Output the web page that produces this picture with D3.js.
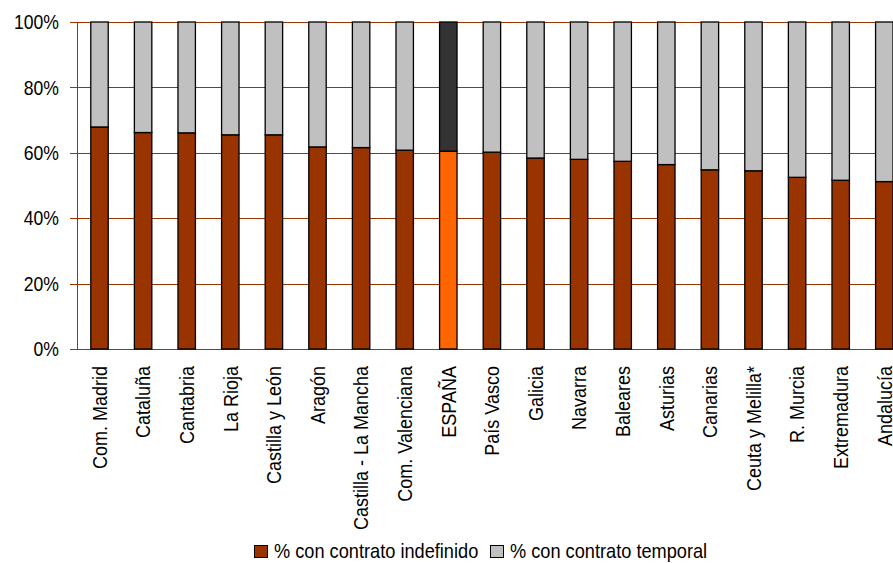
<!DOCTYPE html>
<html>
<head>
<meta charset="utf-8">
<script src="https://cdn.jsdelivr.net/npm/d3@7"></script>
<style>
  html, body { margin: 0; padding: 0; background: #fff; }
  svg { display: block; font-family: "Liberation Sans", Arial, sans-serif; }
</style>
</head>
<body>
<svg id="chart" width="893" height="563"></svg>
<script>
const categories = ["Com. Madrid", "Cataluña", "Cantabria", "La Rioja", "Castilla y León", "Aragón",
  "Castilla - La Mancha", "Com. Valenciana", "ESPAÑA", "País Vasco", "Galicia", "Navarra",
  "Baleares", "Asturias", "Canarias", "Ceuta y Melilla*", "R. Murcia", "Extremadura", "Andalucía"];
const indefinido = [67.9, 66.2, 66.1, 65.5, 65.5, 61.8, 61.6, 60.8, 60.5, 60.2, 58.4, 58.0,
  57.4, 56.4, 54.8, 54.5, 52.5, 51.6, 51.2];
const temporal = [32.1, 33.8, 33.9, 34.5, 34.5, 38.2, 38.4, 39.2, 39.5, 39.8, 41.6, 42.0,
  42.6, 43.6, 45.2, 45.5, 47.5, 48.4, 48.8];
const yTicks = [0, 20, 40, 60, 80, 100];
const seriesNames = ["% con contrato indefinido", "% con contrato temporal"];
const highlight = "ESPAÑA";

const colIndef = "#993300", colTemp = "#C0C0C0";
const colIndefHi = "#FF6600", colTempHi = "#333333";
const gridCol = "#993300";
const FS = 20, SX = 0.88;

const svg = d3.select("#chart");
const x = d3.scaleBand().domain(categories).range([77.7, 77.7 + 43.6 * 19])
  .paddingInner(0.6).paddingOuter(0.3);
const y = d3.scaleLinear().domain([0, 100]).range([349, 22]);

// gridlines
svg.append("g").selectAll("line").data(yTicks).join("line")
  .attr("x1", 70).attr("x2", 893)
  .attr("y1", d => Math.round(y(d)) + 0.5).attr("y2", d => Math.round(y(d)) + 0.5)
  .attr("stroke", gridCol).attr("stroke-width", 1);

// y axis line
svg.append("line").attr("x1", 77.5).attr("x2", 77.5)
  .attr("y1", y(100)).attr("y2", y(0) + 0.5)
  .attr("stroke", gridCol).attr("stroke-width", 1);

// y tick labels
svg.append("g").selectAll("g").data(yTicks).join("g")
  .attr("transform", d => `translate(59,${y(d)})`)
  .append("text")
  .attr("transform", `scale(${SX},1)`)
  .attr("text-anchor", "end").attr("dy", "0.36em")
  .attr("font-size", FS).attr("fill", "#000")
  .text(d => d + "%");

// bars
const bars = svg.append("g");
categories.forEach((c, i) => {
  const hi = c === highlight;
  bars.append("rect")
    .attr("x", x(c)).attr("width", x.bandwidth())
    .attr("y", y(indefinido[i])).attr("height", y(0) - y(indefinido[i]))
    .attr("fill", hi ? colIndefHi : colIndef)
    .attr("stroke", "#000").attr("stroke-width", 1.3);
  bars.append("rect")
    .attr("x", x(c)).attr("width", x.bandwidth())
    .attr("y", y(indefinido[i] + temporal[i])).attr("height", y(indefinido[i]) - y(indefinido[i] + temporal[i]))
    .attr("fill", hi ? colTempHi : colTemp)
    .attr("stroke", "#000").attr("stroke-width", 1.3);
});

// x labels
svg.append("g").selectAll("g").data(categories).join("g")
  .attr("transform", d => `translate(${x(d) + x.bandwidth() / 2},366) rotate(-90)`)
  .append("text")
  .attr("transform", `scale(0.9,1)`)
  .attr("text-anchor", "end").attr("dy", "0.36em")
  .attr("font-size", FS).attr("fill", "#000")
  .text(d => d);

// legend
const legend = svg.append("g");
const legItems = [
  { name: seriesNames[0], color: colIndef, sx: 254.5, tx: 274 },
  { name: seriesNames[1], color: colTemp, sx: 490.5, tx: 510 }
];
legItems.forEach(it => {
  legend.append("rect").attr("x", it.sx).attr("y", 545.5).attr("width", 13).attr("height", 12)
    .attr("fill", it.color).attr("stroke", "#000").attr("stroke-width", 1);
  legend.append("g").attr("transform", `translate(${it.tx},558)`)
    .append("text").attr("transform", `scale(0.91,1)`)
    .attr("font-size", FS).attr("fill", "#000").text(it.name);
});
</script>
</body>
</html>
